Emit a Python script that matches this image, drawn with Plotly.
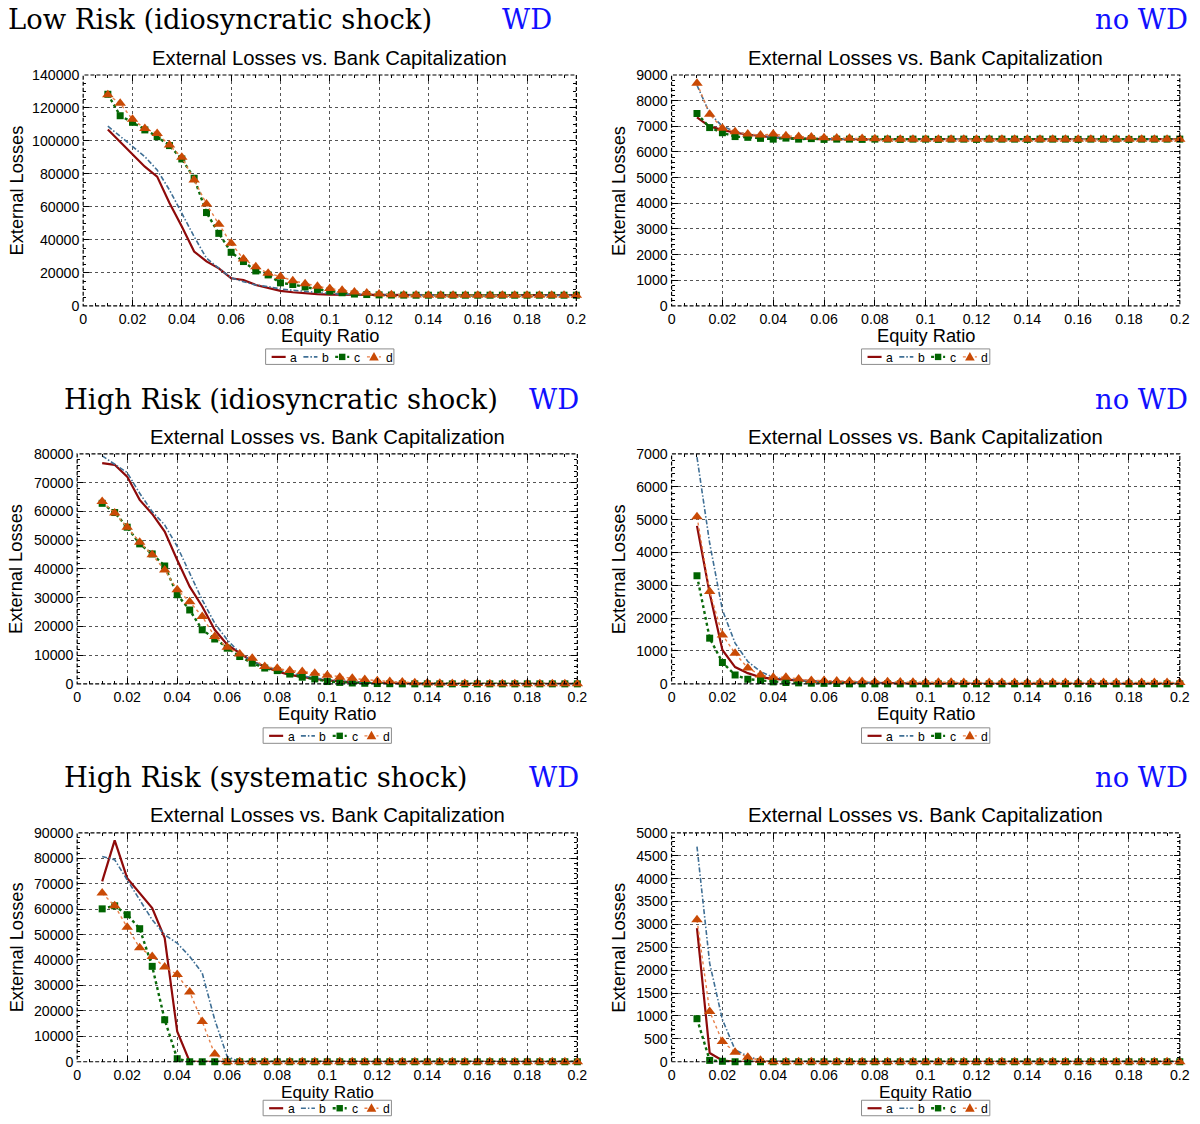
import plotly.graph_objects as go

# ---------------------------------------------------------------- data
EQUITY_RATIO = [0.010, 0.015, 0.020, 0.025, 0.030, 0.035, 0.040, 0.045, 0.050, 0.055,
                0.060, 0.065, 0.070, 0.075, 0.080, 0.085, 0.090, 0.095, 0.100, 0.105,
                0.110, 0.115, 0.120, 0.125, 0.130, 0.135, 0.140, 0.145, 0.150, 0.155,
                0.160, 0.165, 0.170, 0.175, 0.180, 0.185, 0.190, 0.195, 0.200]

SERIES_NAMES = ["a", "b", "c", "d"]

# Low risk, idiosyncratic shock, WD
LR_WD_A = [107000, 99600, 92000, 84400, 78400, 62400, 48100, 33000, 27000, 22800,
           16800, 15700, 12700, 10700, 9100, 8300, 7600, 7100, 6900, 6800,
           6700, 6650, 6600, 6600, 6550, 6550, 6500, 6500, 6500, 6500,
           6500, 6500, 6500, 6500, 6500, 6500, 6500, 6500, 6500]
LR_WD_B = [109000, 103000, 97000, 90500, 82400, 70300, 56200, 42000, 28900, 22800,
           17000, 14700, 12700, 11700, 10300, 9500, 8700, 8000, 7500, 7100,
           6900, 6750, 6650, 6600, 6550, 6550, 6500, 6500, 6500, 6500,
           6500, 6500, 6500, 6500, 6500, 6500, 6500, 6500, 6500]
LR_WD_C = [128300, 115300, 111300, 106700, 102600, 97200, 89100, 77400, 56600, 44000,
           32500, 26900, 21200, 18800, 14000, 13000, 11500, 10000, 9000, 8000,
           7200, 6900, 6700, 6600, 6550, 6500, 6500, 6500, 6500, 6500,
           6500, 6500, 6500, 6500, 6500, 6500, 6500, 6500, 6500]
LR_WD_D = [128000, 122800, 113100, 107600, 104600, 97500, 90100, 76400, 61800, 49500,
           38000, 28500, 23800, 19800, 17800, 15300, 13500, 12000, 10500, 9500,
           8500, 7800, 7200, 6800, 6600, 6550, 6500, 6500, 6500, 6500,
           6500, 6500, 6500, 6500, 6500, 6500, 6500, 6500, 6500]

# Low risk, idiosyncratic shock, no WD
LR_NOWD_A = [7350, 6990, 6860, 6750, 6680, 6620, 6570, 6540, 6520, 6510,
             6500, 6500, 6500, 6500, 6500, 6500, 6500, 6500, 6500, 6500,
             6500, 6500, 6500, 6500, 6500, 6500, 6500, 6500, 6500, 6500,
             6500, 6500, 6500, 6500, 6500, 6500, 6500, 6500, 6500]
LR_NOWD_B = [8600, 7500, 7000, 6800, 6680, 6620, 6570, 6540, 6520, 6510,
             6500, 6500, 6500, 6500, 6500, 6500, 6500, 6500, 6500, 6500,
             6500, 6500, 6500, 6500, 6500, 6500, 6500, 6500, 6500, 6500,
             6500, 6500, 6500, 6500, 6500, 6500, 6500, 6500, 6500]
LR_NOWD_C = [7500, 6950, 6750, 6600, 6570, 6530, 6500, 6540, 6500, 6520,
             6490, 6500, 6500, 6490, 6500, 6500, 6490, 6500, 6500, 6490,
             6500, 6500, 6490, 6500, 6500, 6500, 6490, 6500, 6500, 6500,
             6490, 6500, 6500, 6500, 6490, 6500, 6500, 6500, 6500]
LR_NOWD_D = [8680, 7470, 6920, 6790, 6700, 6660, 6700, 6630, 6600, 6580,
             6550, 6540, 6530, 6520, 6510, 6500, 6500, 6500, 6500, 6500,
             6500, 6500, 6500, 6500, 6500, 6500, 6500, 6500, 6500, 6500,
             6500, 6500, 6500, 6500, 6500, 6500, 6500, 6500, 6500]

# High risk, idiosyncratic shock, WD
HRI_WD_A = [76800, 76200, 72100, 64000, 59100, 53000, 43100, 33800, 26900, 18800,
            13600, 10700, 7800, 6000, 4300, 3100, 2300, 1700, 1200, 800,
            500, 300, 200, 100, 50, 0, 0, 0, 0, 0,
            0, 0, 0, 0, 0, 0, 0, 0, 0]
HRI_WD_B = [79300, 76500, 73500, 66300, 59900, 55300, 47800, 38500, 29200, 21100,
            15300, 10800, 7800, 6000, 4900, 3700, 2800, 2000, 1400, 1000,
            700, 400, 250, 150, 80, 40, 0, 0, 0, 0,
            0, 0, 0, 0, 0, 0, 0, 0, 0]
HRI_WD_C = [62800, 59600, 54500, 48700, 45200, 41000, 31000, 25700, 18800, 15600,
            12400, 9500, 7200, 5500, 4600, 3400, 2300, 1700, 800, 500,
            300, 200, 100, 50, 0, 0, 0, 0, 0, 0,
            0, 0, 0, 0, 0, 0, 0, 0, 0]
HRI_WD_D = [63400, 59400, 54500, 49300, 44900, 39600, 32700, 28600, 23400, 16500,
            12700, 10400, 8900, 6000, 5400, 4600, 4300, 3700, 3000, 2300,
            1900, 1500, 1100, 800, 600, 400, 300, 200, 150, 100,
            80, 60, 40, 30, 20, 10, 0, 0, 0]

# High risk, idiosyncratic shock, no WD
HRI_NOWD_A = [4810, 2760, 1030, 510, 325, 200, 150, 120, 100, 80,
              60, 50, 40, 30, 25, 20, 15, 10, 10, 5,
              0, 0, 0, 0, 0, 0, 0, 0, 0, 0,
              0, 0, 0, 0, 0, 0, 0, 0, 0]
HRI_NOWD_B = [6900, 4280, 2250, 1240, 680, 375, 200, 150, 100, 80,
              60, 50, 40, 30, 25, 20, 15, 10, 10, 5,
              0, 0, 0, 0, 0, 0, 0, 0, 0, 0,
              0, 0, 0, 0, 0, 0, 0, 0, 0]
HRI_NOWD_C = [3290, 1390, 650, 270, 140, 100, 60, 40, 30, 20,
              15, 10, 0, 0, 0, 0, 0, 0, 0, 0,
              0, 0, 0, 0, 0, 0, 0, 0, 0, 0,
              0, 0, 0, 0, 0, 0, 0, 0, 0]
HRI_NOWD_D = [5090, 2810, 1490, 930, 480, 270, 200, 200, 150, 100,
              100, 90, 80, 70, 60, 60, 55, 50, 50, 45,
              45, 40, 40, 40, 40, 40, 40, 40, 40, 40,
              40, 40, 40, 40, 40, 40, 40, 40, 40]

# High risk, systematic shock, WD
HRS_WD_A = [70900, 87000, 72200, 66300, 60400, 48600, 11900, 0, 0, 0,
            0, 0, 0, 0, 0, 0, 0, 0, 0, 0,
            0, 0, 0, 0, 0, 0, 0, 0, 0, 0,
            0, 0, 0, 0, 0, 0, 0, 0, 0]
HRS_WD_B = [80700, 79400, 71500, 63700, 55800, 49900, 46600, 41400, 34900, 16500,
            2000, 0, 0, 0, 0, 0, 0, 0, 0, 0,
            0, 0, 0, 0, 0, 0, 0, 0, 0, 0,
            0, 0, 0, 0, 0, 0, 0, 0, 0]
HRS_WD_C = [60100, 61300, 57800, 52300, 37500, 16500, 1200, 0, 0, 0,
            0, 0, 0, 0, 0, 0, 0, 0, 0, 0,
            0, 0, 0, 0, 0, 0, 0, 0, 0, 0,
            0, 0, 0, 0, 0, 0, 0, 0, 0]
HRS_WD_D = [66300, 61300, 52900, 44800, 41400, 37200, 34300, 27400, 15800, 3000,
            0, 0, 0, 0, 0, 0, 0, 0, 0, 0,
            0, 0, 0, 0, 0, 0, 0, 0, 0, 0,
            0, 0, 0, 0, 0, 0, 0, 0, 0]

# High risk, systematic shock, no WD
HRS_NOWD_A = [2920, 190, 30, 0, 0, 0, 0, 0, 0, 0,
              0, 0, 0, 0, 0, 0, 0, 0, 0, 0,
              0, 0, 0, 0, 0, 0, 0, 0, 0, 0,
              0, 0, 0, 0, 0, 0, 0, 0, 0]
HRS_NOWD_B = [4700, 2150, 920, 260, 120, 30, 10, 0, 0, 0,
              0, 0, 0, 0, 0, 0, 0, 0, 0, 0,
              0, 0, 0, 0, 0, 0, 0, 0, 0, 0,
              0, 0, 0, 0, 0, 0, 0, 0, 0]
HRS_NOWD_C = [940, 30, 10, 0, 0, 0, 0, 0, 0, 0,
              0, 0, 0, 0, 0, 0, 0, 0, 0, 0,
              0, 0, 0, 0, 0, 0, 0, 0, 0, 0,
              0, 0, 0, 0, 0, 0, 0, 0, 0]
HRS_NOWD_D = [3100, 1100, 440, 210, 100, 30, 0, 0, 0, 0,
              0, 0, 0, 0, 0, 0, 0, 0, 0, 0,
              0, 0, 0, 0, 0, 0, 0, 0, 0, 0,
              0, 0, 0, 0, 0, 0, 0, 0, 0]

X_TICKS = [0, 0.02, 0.04, 0.06, 0.08, 0.1, 0.12, 0.14, 0.16, 0.18, 0.2]
X_TICK_TEXT = ["0", "0.02", "0.04", "0.06", "0.08", "0.1", "0.12", "0.14", "0.16", "0.18", "0.2"]

ROW_HEADINGS = ["Low Risk (idiosyncratic shock)",
                "High Risk (idiosyncratic shock)",
                "High Risk (systematic shock)"]
PANEL_TITLE = "External Losses vs. Bank Capitalization"
X_TITLE = "Equity Ratio"
Y_TITLE = "External Losses"

# ---------------------------------------------------------------- layout (pixels)
# Positions below are given in on-screen pixels; the page shows the figure
# with an 8 px inset at a scale of about 0.986, so they are mapped back here.
W, H = 1200, 1124
INSET = 8
SCALE = 0.986

PANELS = [
    dict(data=[LR_WD_A, LR_WD_B, LR_WD_C, LR_WD_D], x=(87, 579), y=(75, 306),
         ymax=140000, dtick=20000, minor=4, row=0),
    dict(data=[LR_NOWD_A, LR_NOWD_B, LR_NOWD_C, LR_NOWD_D], x=(674, 1181), y=(75, 306),
         ymax=9000, dtick=1000, minor=5, row=0),
    dict(data=[HRI_WD_A, HRI_WD_B, HRI_WD_C, HRI_WD_D], x=(81, 580), y=(454, 684),
         ymax=80000, dtick=10000, minor=5, row=1),
    dict(data=[HRI_NOWD_A, HRI_NOWD_B, HRI_NOWD_C, HRI_NOWD_D], x=(674, 1181), y=(454, 684),
         ymax=7000, dtick=1000, minor=5, row=1),
    dict(data=[HRS_WD_A, HRS_WD_B, HRS_WD_C, HRS_WD_D], x=(81, 580), y=(833, 1062),
         ymax=90000, dtick=10000, minor=5, row=2),
    dict(data=[HRS_NOWD_A, HRS_NOWD_B, HRS_NOWD_C, HRS_NOWD_D], x=(674, 1181), y=(833, 1062),
         ymax=5000, dtick=500, minor=5, row=2),
]

HEADING_Y = [20, 400, 778]
HEADING_X = [10, 66, 66]
WD_X = [503, 530, 530]
TITLE_Y = [58, 437, 815]
XTITLE_Y = [336, 714, 1092.5]
XTITLE_SIZE = [18, 18, 17]
LEGEND_Y = [357, 736, 1108.5]

STYLES = [
    dict(mode="lines", line=dict(color="#8e0a0a", width=2.2, dash="solid")),
    dict(mode="lines", line=dict(color="#3f6f95", width=1.6, dash="5px,2px,1.5px,2px")),
    dict(mode="lines+markers", line=dict(color="#0b6a0b", width=2.4, dash="dot"),
         marker=dict(symbol="square", size=7, color="#006400")),
    dict(mode="lines+markers", line=dict(color="#e8804a", width=1.4, dash="dot"),
         marker=dict(symbol="triangle-up", size=10, color="#c94a05")),
]

SANS = "Liberation Sans, Arial, sans-serif"
SERIF = "DejaVu Serif, serif"


def fx(p):
    return (p - INSET) / SCALE / W


def fy(p):
    return 1 - (p - INSET) / SCALE / H


def fs(size):
    return round(size / SCALE, 2)


fig = go.Figure()
annotations = []
shapes = []
layout = {}


def add_key(cx, cy):
    """Compact boxed key (a, b, c, d) centred at pixel position (cx, cy)."""
    shapes.append(dict(type="rect", xref="paper", yref="paper",
                       x0=fx(cx - 64), x1=fx(cx + 64), y0=fy(cy + 7.5), y1=fy(cy - 8),
                       fillcolor="white", line=dict(color="#8c8c8c", width=1), layer="above"))
    for k, (name, style) in enumerate(zip(SERIES_NAMES, STYLES)):
        sx = cx - 51 + 31.7 * k
        ln = style["line"]
        shapes.append(dict(type="line", xref="paper", yref="paper",
                           x0=fx(sx - 7), x1=fx(sx + 7), y0=fy(cy), y1=fy(cy), layer="above",
                           line=dict(color=ln["color"], width=ln["width"], dash=ln["dash"])))
        mk = style.get("marker")
        if mk and mk["symbol"] == "square":
            shapes.append(dict(type="rect", xref="paper", yref="paper",
                               x0=fx(sx - 3.2), x1=fx(sx + 3.2), y0=fy(cy + 3.2),
                               y1=fy(cy - 3.2), fillcolor=mk["color"], layer="above",
                               line=dict(width=0)))
        elif mk:
            path = (f"M {fx(sx)},{fy(cy - 5)} L {fx(sx + 4.8)},{fy(cy + 3.5)} "
                    f"L {fx(sx - 4.8)},{fy(cy + 3.5)} Z")
            shapes.append(dict(type="path", xref="paper", yref="paper", path=path,
                               fillcolor=mk["color"], layer="above", line=dict(width=0)))
        annotations.append(dict(text=name, xref="paper", yref="paper",
                                x=fx(sx + 15), y=fy(cy + 1), xanchor="center",
                                yanchor="middle", showarrow=False,
                                font=dict(family=SANS, size=fs(12), color="black")))


for i, panel in enumerate(PANELS):
    n = "" if i == 0 else str(i + 1)
    for name, ys, style in zip(SERIES_NAMES, panel["data"], STYLES):
        fig.add_trace(go.Scatter(x=EQUITY_RATIO, y=ys, name=name,
                                 xaxis=f"x{n}", yaxis=f"y{n}", showlegend=False,
                                 cliponaxis=False, **style))

    x0, x1 = panel["x"]
    y0, y1 = panel["y"]
    common = dict(showgrid=True, gridcolor="#555555", griddash="dot", gridwidth=1,
                  zeroline=False, showline=True, linecolor="rgba(0,0,0,0)",
                  mirror="ticks", ticks="inside", ticklen=6, tickcolor="black",
                  tickfont=dict(family=SANS, size=fs(14), color="black"))
    layout[f"xaxis{n}"] = dict(domain=[fx(x0), fx(x1)], anchor=f"y{n}", range=[0, 0.2],
                               tickvals=X_TICKS, ticktext=X_TICK_TEXT,
                               minor=dict(dtick=0.005, ticks="inside", ticklen=3,
                                          tickcolor="black", showgrid=False),
                               **common)
    layout[f"yaxis{n}"] = dict(domain=[fy(y1), fy(y0)], anchor=f"x{n}",
                               range=[0, panel["ymax"]], dtick=panel["dtick"],
                               tickformat="d",
                               minor=dict(dtick=panel["dtick"] / panel["minor"],
                                          ticks="inside", ticklen=3,
                                          tickcolor="black", showgrid=False),
                               **common)

    # dashed frame around the plotting area
    shapes.append(dict(type="rect", xref=f"x{n} domain", yref=f"y{n} domain",
                       x0=0, x1=1, y0=0, y1=1, layer="above",
                       line=dict(color="black", width=1.2, dash="4px,2px")))

    cx = (x0 + x1) / 2
    r = panel["row"]
    annotations.append(dict(text=PANEL_TITLE, xref="paper", yref="paper",
                            x=fx(cx), y=fy(TITLE_Y[r]), xanchor="center", yanchor="middle",
                            showarrow=False, font=dict(family=SANS, size=fs(20), color="black")))
    annotations.append(dict(text=X_TITLE, xref="paper", yref="paper",
                            x=fx(cx), y=fy(XTITLE_Y[r]), xanchor="center", yanchor="middle",
                            showarrow=False,
                            font=dict(family=SANS, size=fs(XTITLE_SIZE[r]), color="black")))
    ytitle_x = 20 if x0 < 600 else 621
    annotations.append(dict(text=Y_TITLE, xref="paper", yref="paper", textangle=-90,
                            x=fx(ytitle_x), y=fy((y0 + y1) / 2), xanchor="center",
                            yanchor="middle", showarrow=False,
                            font=dict(family=SANS, size=fs(18), color="black")))
    add_key(cx, LEGEND_Y[r])

for r in range(3):
    annotations.append(dict(text=ROW_HEADINGS[r], xref="paper", yref="paper",
                            x=fx(HEADING_X[r]), y=fy(HEADING_Y[r]), xanchor="left",
                            yanchor="middle", showarrow=False,
                            font=dict(family=SERIF, size=fs(27), color="black")))
    annotations.append(dict(text="WD", xref="paper", yref="paper",
                            x=fx(WD_X[r]), y=fy(HEADING_Y[r]), xanchor="left",
                            yanchor="middle", showarrow=False,
                            font=dict(family=SERIF, size=fs(27), color="#1010ff")))
    annotations.append(dict(text="no WD", xref="paper", yref="paper",
                            x=fx(1191), y=fy(HEADING_Y[r]), xanchor="right",
                            yanchor="middle", showarrow=False,
                            font=dict(family=SERIF, size=fs(27), color="#1010ff")))

fig.update_layout(width=W, height=H, margin=dict(l=0, r=0, t=0, b=0),
                  paper_bgcolor="white", plot_bgcolor="white", showlegend=False,
                  annotations=annotations, shapes=shapes, **layout)

fig.write_html("out.html")
